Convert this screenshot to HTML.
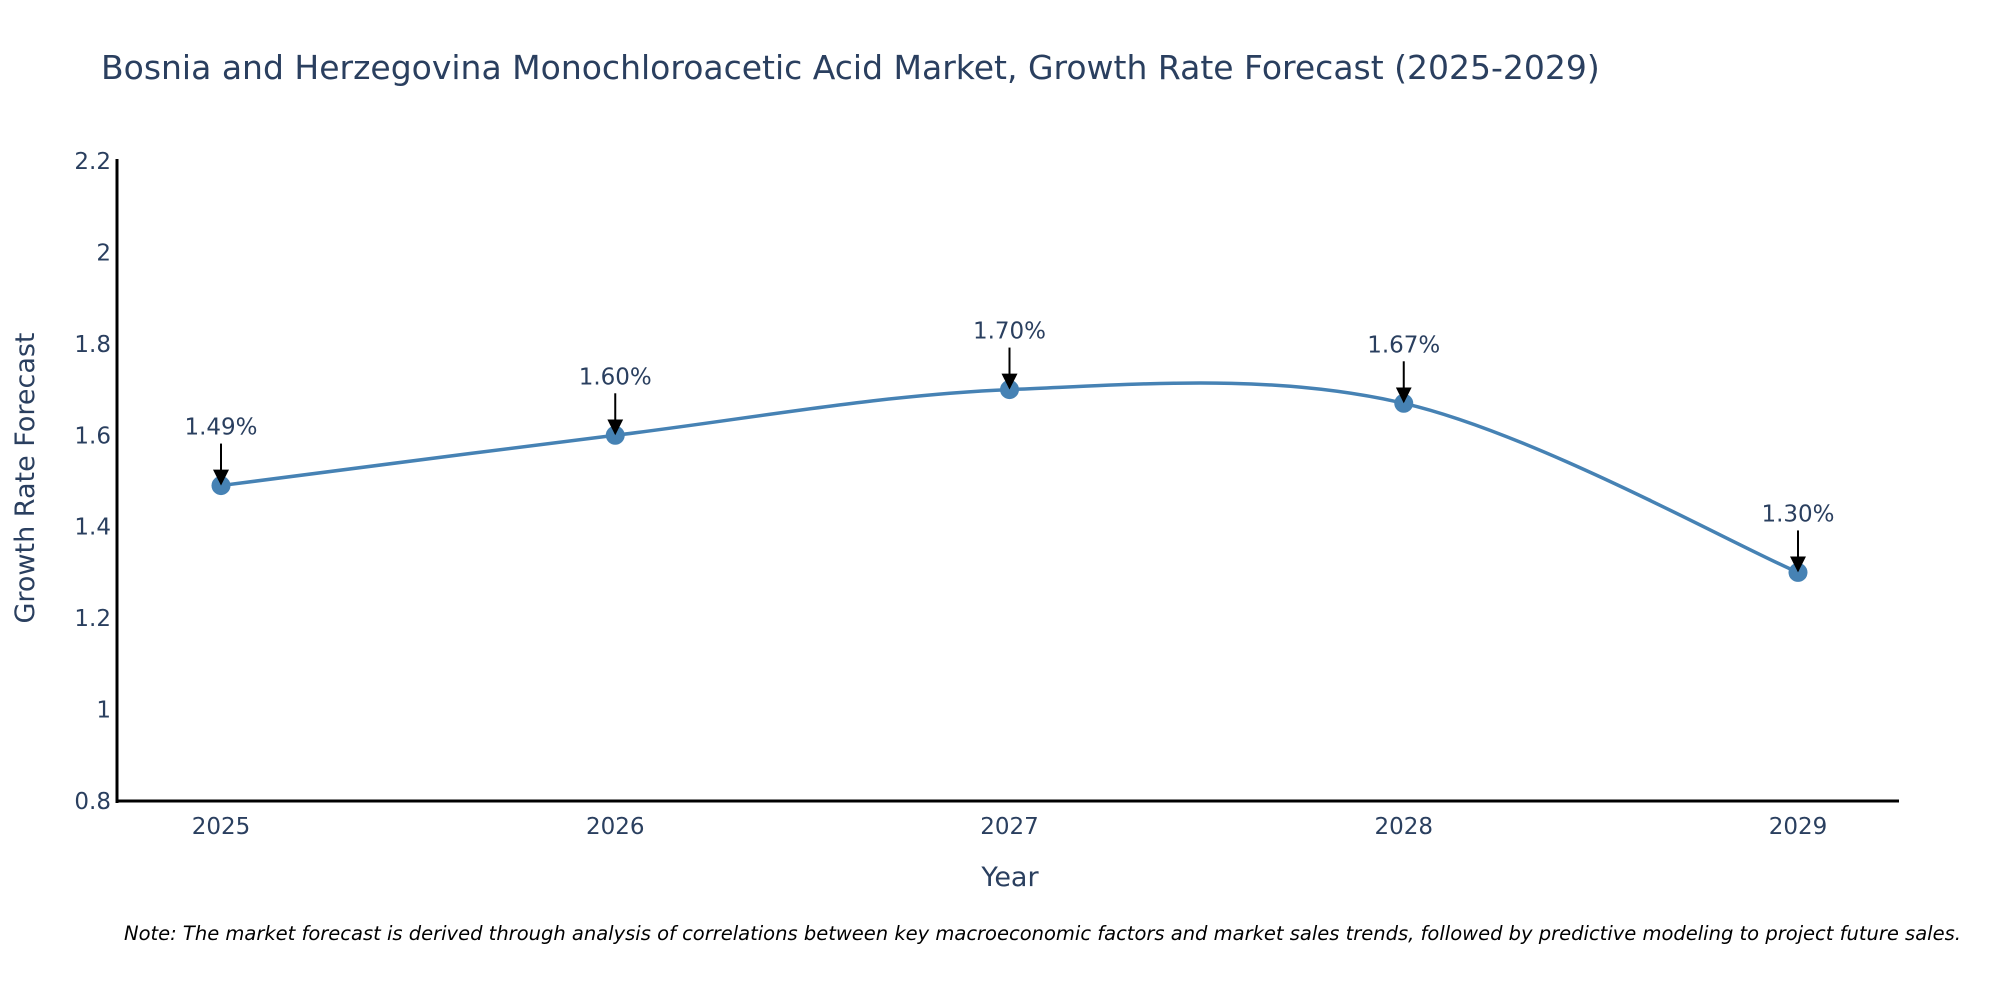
<!DOCTYPE html>
<html><head><meta charset="utf-8"><style>
body{margin:0;background:#fff;}
svg{display:block;font-family:"DejaVu Sans","Liberation Sans",sans-serif;}
</style></head><body>
<svg id="chart" width="2000" height="1000">
<text x="101" y="79" font-size="33" fill="#2a3f5f">Bosnia and Herzegovina Monochloroacetic Acid Market, Growth Rate Forecast (2025-2029)</text>
<g id="yticks"></g>
<g id="xticks"></g>
<line x1="117" y1="159" x2="117" y2="803" stroke="#000" stroke-width="3"/>
<line x1="116" y1="801" x2="1899" y2="801" stroke="#000" stroke-width="3"/>
<text x="1010" y="886" font-size="27" fill="#2a3f5f" text-anchor="middle">Year</text>
<text transform="translate(34,478) rotate(-90)" font-size="27" fill="#2a3f5f" text-anchor="middle">Growth Rate Forecast</text>
<path id="line" fill="none" stroke="#4682B4" stroke-width="3.5"/>
<g id="points"></g>
<g id="annots"></g>
<text x="124" y="940" font-size="19.5" font-style="italic" fill="#000">Note: The market forecast is derived through analysis of correlations between key macroeconomic factors and market sales trends, followed by predictive modeling to project future sales.</text>
<defs><marker id="arr" markerWidth="16" markerHeight="16" refX="14" refY="8" orient="auto" markerUnits="userSpaceOnUse" viewBox="0 0 16 16"><path d="M0,0 L16,8 L0,16 z" fill="#000"/></marker></defs>
</svg>
<script>
const years = [2025, 2026, 2027, 2028, 2029];
const growth = [1.49, 1.60, 1.70, 1.67, 1.30];
const labels = ["1.49%", "1.60%", "1.70%", "1.67%", "1.30%"];
const yTicks = [0.8, 1, 1.2, 1.4, 1.6, 1.8, 2, 2.2];
const yTickLabels = ["0.8", "1", "1.2", "1.4", "1.6", "1.8", "2", "2.2"];

const NS = "http://www.w3.org/2000/svg";
function xs(v){ return 221 + (v - 2025) * 394.25; }
function ys(v){ return 801 - (v - 0.8) / 1.4 * 640; }
function mk(tag, attrs, parent){ const e = document.createElementNS(NS, tag); for (const k in attrs) e.setAttribute(k, attrs[k]); parent.appendChild(e); return e; }

const yg = document.getElementById('yticks');
yTicks.forEach((t, i) => {
  const e = mk('text', {x: 111, y: ys(t) + 8, 'font-size': 23, fill: '#2a3f5f', 'text-anchor': 'end'}, yg);
  
  
  e.textContent = yTickLabels[i];
});
const xg = document.getElementById('xticks');
years.forEach(y => {
  const e = mk('text', {x: xs(y), y: 834, 'font-size': 23, fill: '#2a3f5f', 'text-anchor': 'middle'}, xg);
  
  
  e.textContent = String(y);
});

const P = years.map((y, i) => [xs(y), ys(growth[i])]);
let d = `M${P[0][0]},${P[0][1]}`;
for (let i = 0; i < P.length - 1; i++) {
  const p0 = P[Math.max(0, i - 1)], p1 = P[i], p2 = P[i + 1], p3 = P[Math.min(P.length - 1, i + 2)];
  const c1 = [p1[0] + (p2[0] - p0[0]) / 6, p1[1] + (p2[1] - p0[1]) / 6];
  const c2 = [p2[0] - (p3[0] - p1[0]) / 6, p2[1] - (p3[1] - p1[1]) / 6];
  d += ` C${c1[0]},${c1[1]} ${c2[0]},${c2[1]} ${p2[0]},${p2[1]}`;
}
document.getElementById('line').setAttribute('d', d);

const pg = document.getElementById('points'), ag = document.getElementById('annots');
P.forEach((p, i) => {
  const c = mk('circle', {cx: p[0], cy: p[1], r: 9.5, fill: '#4682B4'}, pg);
  
  
  const l = mk('line', {x1: p[0], y1: p[1] - 42, x2: p[0], y2: p[1] - 2, stroke: '#000', 'stroke-width': 2, 'marker-end': 'url(#arr)'}, ag);
  
  
  const t = mk('text', {x: p[0], y: p[1] - 51, 'font-size': 23, fill: '#2a3f5f', 'text-anchor': 'middle'}, ag);
  
  
  t.textContent = labels[i];
});
</script>
</body></html>
